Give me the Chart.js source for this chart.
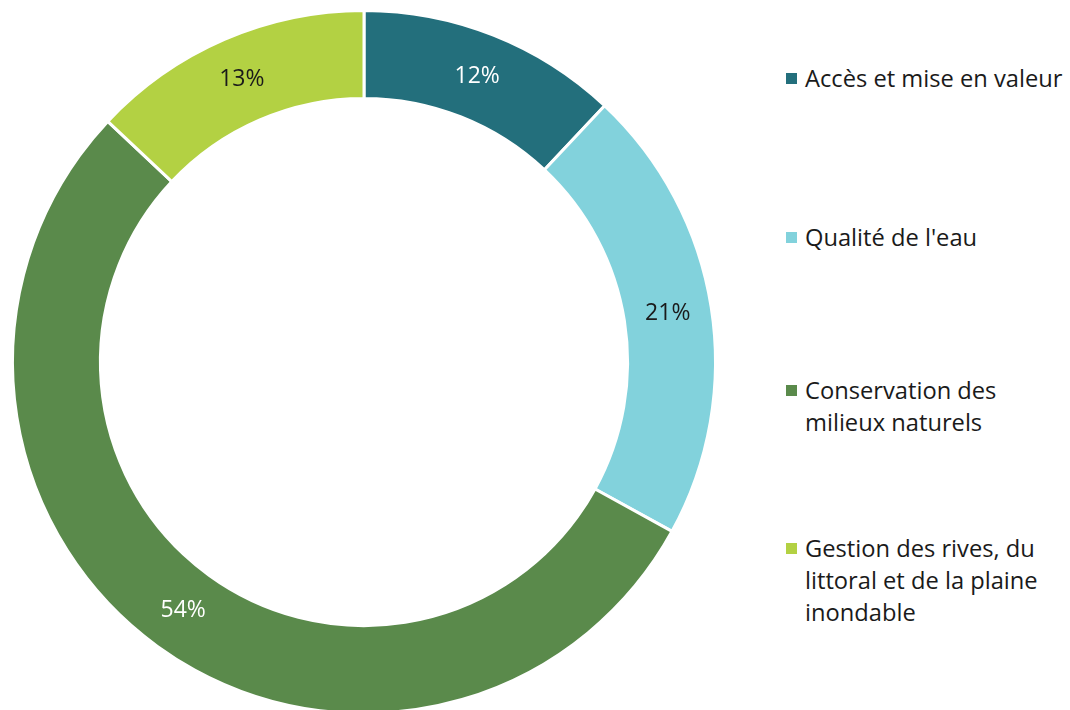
<!DOCTYPE html>
<html>
<head>
<meta charset="utf-8">
<script src="https://cdn.jsdelivr.net/npm/chart.js@4"></script>
<style>
  body { margin: 0; width: 1070px; height: 710px; overflow: hidden; background: #fff; position: relative; font-family: "Open Sans", "Noto Sans", sans-serif; }
  #wrap { position: absolute; left: 0; top: -2px; width: 728px; height: 728px; }
  #legend { position: absolute; left: 786px; top: 0; width: 284px; color: #1a1a1a; font-size: 23.7px; line-height: 32px; white-space: nowrap; }
  #legend .item { position: absolute; left: 0; width: 284px; }
  #legend .box { position: absolute; left: 0; top: 11px; width: 11px; height: 11px; }
  #legend .txt { margin-left: 19px; }
</style>
</head>
<body>
<div id="wrap"><canvas id="chart_donut"></canvas></div>
<div id="legend"></div>
<script>
var labels = ['Accès et mise en valeur', 'Qualité de l\'eau', 'Conservation des milieux naturels', 'Gestion des rives, du littoral et de la plaine inondable'];
var legendLines = [['Accès et mise en valeur'], ['Qualité de l\'eau'], ['Conservation des', 'milieux naturels'], ['Gestion des rives, du', 'littoral et de la plaine', 'inondable']];
var values = [12, 21, 54, 13];
var colors = ['#236f7c', '#82d2dc', '#5a8a4b', '#b3d143'];
var labelColors = ['#ffffff', '#1a1a1a', '#ffffff', '#1a1a1a'];
var legendTops = [62, 221, 374, 532];

// percentage labels inside the ring
var pctLabels = {
    id: 'pctLabels',
    afterDatasetsDraw: function (chart) {
        var ctx = chart.ctx;
        var meta = chart.getDatasetMeta(0);
        ctx.save();
        ctx.font = '23px "Open Sans", "Noto Sans", sans-serif';
        ctx.textAlign = 'center';
        ctx.textBaseline = 'middle';
        meta.data.forEach(function (arc, i) {
            var p = arc.getProps(['x', 'y', 'startAngle', 'endAngle', 'innerRadius', 'outerRadius']);
            var a = (p.startAngle + p.endAngle) / 2;
            var r = (p.innerRadius + p.outerRadius) / 2;
            ctx.fillStyle = labelColors[i];
            ctx.fillText(values[i] + '%', p.x + Math.cos(a) * r, p.y + Math.sin(a) * r);
        });
        ctx.restore();
    }
};

var ctx = document.getElementById('chart_donut').getContext('2d');
var chart = new Chart(ctx, {
    type: 'doughnut',
    data: {
        labels: labels,
        datasets: [{
            data: values,
            backgroundColor: colors,
            borderColor: '#ffffff',
            borderWidth: 3
        }]
    },
    options: {
        responsive: true,
        maintainAspectRatio: false,
        animation: false,
        cutout: '75%',
        layout: { padding: 11 },
        plugins: {
            legend: { display: false },
            tooltip: { enabled: false }
        }
    },
    plugins: [pctLabels]
});

var legend = document.getElementById('legend');
legendLines.forEach(function (lines, i) {
    var item = document.createElement('div');
    item.className = 'item';
    item.style.top = legendTops[i] + 'px';
    item.innerHTML = '<span class="box" style="background:' + colors[i] + '"></span><div class="txt">' + lines.join('<br>') + '</div>';
    legend.appendChild(item);
});
</script>
</body>
</html>
